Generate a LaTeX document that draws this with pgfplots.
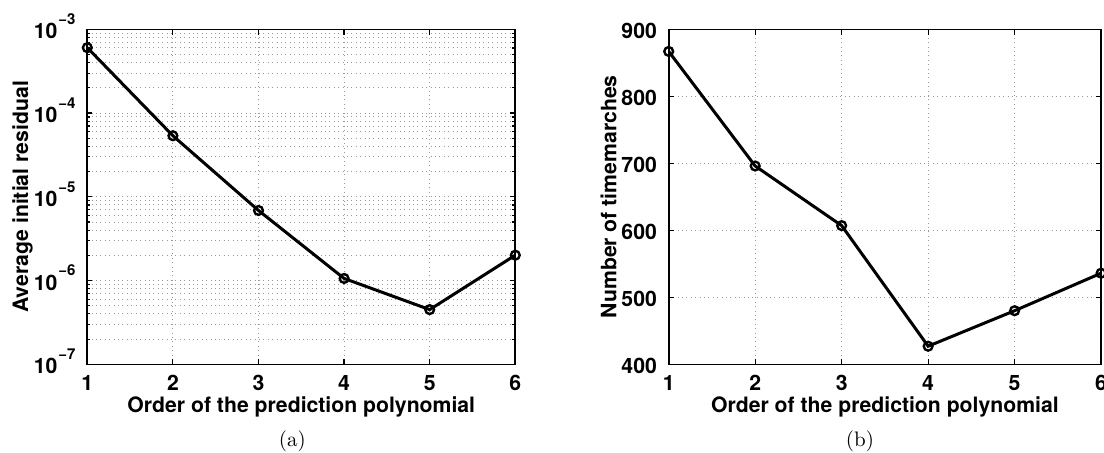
\documentclass[border=0pt]{standalone}
\usepackage{fontspec}
\setsansfont{TeX Gyre Heros}
\usepackage{pgfplots}
\pgfplotsset{compat=1.18}
\newcommand{\lab}{\sffamily\bfseries\fontsize{10.6}{12}\selectfont}
\newcommand{\pw}[1]{10\hspace{0.5pt}\raisebox{7.2pt}{\fontsize{7.5}{8}\selectfont −#1}}
\begin{document}
\begin{tikzpicture}
\pgfplotsset{
  common/.style={
    scale only axis,
    height=167.5pt,
    xmin=1, xmax=6, xtick={1,2,3,4,5,6},
    tick align=inside,
    axis line style={line width=0.8pt},
    every tick/.style={black, line width=0.6pt},
    major tick length=2.6pt, minor tick length=1.5pt,
    grid style={gray!80, line width=0.5pt, dash pattern=on 0.5pt off 1.7pt},
    major grid style={gray!80, line width=0.5pt, dash pattern=on 0.5pt off 1.7pt},
    minor grid style={gray!80, line width=0.5pt, dash pattern=on 0.5pt off 1.7pt},
    tick label style={font=\lab},
    label style={font=\lab},
    /pgf/number format/assume math mode=true,
    xticklabel style={anchor=center, yshift=-9.35pt},
    yticklabel style={anchor=base east, yshift=-4.8pt, xshift=-2.4pt},
    xlabel={Order of the prediction polynomial},
    xlabel style={at={(axis description cs:0.5,-0.127)}, anchor=center},
    grid=major,
  },
  dataline/.style={black, line width=1.5pt, mark=o, mark size=2.2pt,
    mark options={line width=1.2pt, solid}},
}
\begin{axis}[common,
  name=left, at={(0pt,0pt)}, anchor=south west,
  width=214pt,
  ymode=log, ymin=1e-7, ymax=1e-3,
  ytick={1e-7,1e-6,1e-5,1e-4,1e-3},
  yticklabels={\pw{7},\pw{6},\pw{5},\pw{4},\pw{3}},
  minor ytick={2e-7,3e-7,4e-7,5e-7,6e-7,7e-7,8e-7,9e-7,
               2e-6,3e-6,4e-6,5e-6,6e-6,7e-6,8e-6,9e-6,
               2e-5,3e-5,4e-5,5e-5,6e-5,7e-5,8e-5,9e-5,
               2e-4,3e-4,4e-4,5e-4,6e-4,7e-4,8e-4,9e-4},
  yminorgrids=true,
  ylabel={Average initial residual},
  ylabel style={at={(axis description cs:-0.1514,0.5)}, anchor=center},
]
\addplot[dataline] coordinates {
  (1,6.04e-4) (2,5.36e-5) (3,6.87e-6) (4,1.06e-6) (5,4.5e-7) (6,2.01e-6)
};
\end{axis}
\begin{axis}[common,
  name=right, at={(290.7pt,0pt)}, anchor=south west,
  width=216.2pt,
  ymin=400, ymax=900, ytick={400,500,600,700,800,900},
  ylabel={Number of timemarches},
  ylabel style={at={(axis description cs:-0.139,0.5)}, anchor=center},
]
\addplot[dataline] coordinates {
  (1,867) (2,696) (3,607) (4,427) (5,480) (6,536)
};
\end{axis}
\node[font=\fontsize{10.5}{12}\selectfont] at (102.5pt,-38.7pt) {(a)};
\node[font=\fontsize{10.5}{12}\selectfont] at (386.35pt,-38.7pt) {(b)};
\pgfresetboundingbox
\path[use as bounding box] (-43.65pt,-43.85pt) rectangle (508.35pt,182.15pt);
\end{tikzpicture}
\end{document}
